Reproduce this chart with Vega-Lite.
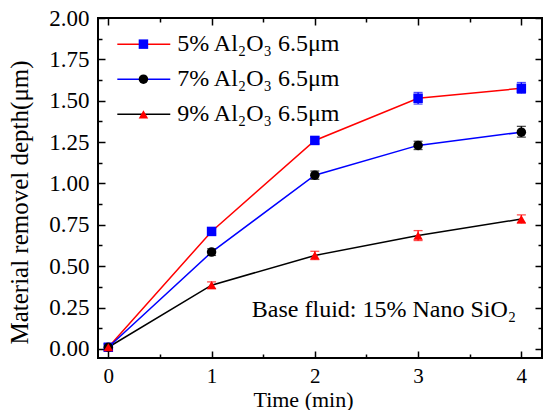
{
  "$schema": "https://vega.github.io/schema/vega-lite/v6.json",
  "width": 444,
  "height": 340,
  "autosize": "none",
  "padding": {"left": 98, "top": 18, "right": 2, "bottom": 52},
  "background": "white",
  "config": {
    "view": {"stroke": "black", "strokeWidth": 2},
    "font": "Liberation Serif",
    "axis": {"domain": false, "grid": false, "tickColor": "black", "tickWidth": 1.5, "labelColor": "black", "titleColor": "black", "labelFont": "Liberation Serif", "titleFont": "Liberation Serif", "labelFontSize": 23, "titleFontSize": 24, "titleFontWeight": "normal"}
  },
  "datasets": {
    "main": [
      {"series": "5%", "t": 0, "d": 0.01, "lo": -0.01, "hi": 0.03},
      {"series": "5%", "t": 1, "d": 0.71, "lo": 0.695, "hi": 0.725},
      {"series": "5%", "t": 2, "d": 1.26, "lo": 1.24, "hi": 1.28},
      {"series": "5%", "t": 3, "d": 1.515, "lo": 1.48, "hi": 1.55},
      {"series": "5%", "t": 4, "d": 1.575, "lo": 1.545, "hi": 1.61},
      {"series": "7%", "t": 0, "d": 0.01, "lo": -0.01, "hi": 0.03},
      {"series": "7%", "t": 1, "d": 0.585, "lo": 0.565, "hi": 0.605},
      {"series": "7%", "t": 2, "d": 1.05, "lo": 1.025, "hi": 1.075},
      {"series": "7%", "t": 3, "d": 1.23, "lo": 1.205, "hi": 1.255},
      {"series": "7%", "t": 4, "d": 1.31, "lo": 1.28, "hi": 1.345},
      {"series": "9%", "t": 0, "d": 0.01, "lo": -0.01, "hi": 0.03},
      {"series": "9%", "t": 1, "d": 0.385, "lo": 0.365, "hi": 0.405},
      {"series": "9%", "t": 2, "d": 0.565, "lo": 0.54, "hi": 0.59},
      {"series": "9%", "t": 3, "d": 0.685, "lo": 0.655, "hi": 0.715},
      {"series": "9%", "t": 4, "d": 0.785, "lo": 0.76, "hi": 0.81}
    ],
    "legend": [
      {"series": "5%", "x0": 0.087, "x1": 0.6, "xm": 0.34, "xt": 0.667, "y": 1.842, "label": "5% Al₂O₃ 6.5μm"},
      {"series": "7%", "x0": 0.087, "x1": 0.6, "xm": 0.34, "xt": 0.667, "y": 1.63, "label": "7% Al₂O₃ 6.5μm"},
      {"series": "9%", "x0": 0.087, "x1": 0.6, "xm": 0.34, "xt": 0.667, "y": 1.418, "label": "9% Al₂O₃ 6.5μm"}
    ],
    "note": [{"x": 3.95, "y": 0.236, "label": "Base fluid: 15% Nano SiO₂"}]
  },
  "resolve": {"axis": {"x": "independent", "y": "independent"}},
  "layer": [
    {
      "data": {"name": "main"},
      "mark": {"type": "line", "strokeWidth": 1.5},
      "encoding": {
        "x": {"field": "t", "type": "quantitative", "scale": {"domain": [-0.1, 4.2], "nice": false, "zero": false},
          "axis": {"orient": "bottom", "title": "Time (min)", "titleX": 205, "titleY": 41, "titleBaseline": "middle", "titleFontSize": 22, "labelFontSize": 21, "values": [0, 0.5, 1, 1.5, 2, 2.5, 3, 3.5, 4], "labelExpr": "datum.value % 1 === 0 ? format(datum.value, 'd') : ''", "tickSize": {"condition": {"test": "datum.value % 1 === 0", "value": -7}, "value": -4}, "labelPadding": 14}},
        "y": {"field": "d", "type": "quantitative", "scale": {"domain": [-0.055, 2.0], "nice": false, "zero": false},
          "axis": {"orient": "left", "title": "Material removel depth(μm)", "titleFontSize": 25, "titleY": 184, "values": [0, 0.125, 0.25, 0.375, 0.5, 0.625, 0.75, 0.875, 1, 1.125, 1.25, 1.375, 1.5, 1.625, 1.75, 1.875, 2], "labelExpr": "(datum.value * 4) % 1 === 0 ? format(datum.value, '.2f') : ''", "tickSize": {"condition": {"test": "(datum.value * 4) % 1 === 0", "value": -7}, "value": -4}, "labelPadding": 16, "titlePadding": 16}},
        "stroke": {"field": "series", "type": "nominal", "scale": {"domain": ["5%", "7%", "9%"], "range": ["#ff0000", "#0000ff", "#000000"]}, "legend": null}
      }
    },
    {
      "data": {"name": "main"},
      "mark": {"type": "errorbar", "ticks": {"size": 9}, "thickness": 1.3},
      "encoding": {
        "x": {"field": "t", "type": "quantitative", "axis": null},
        "y": {"field": "lo", "type": "quantitative", "axis": null},
        "y2": {"field": "hi"},
        "color": {"field": "series", "type": "nominal", "scale": {"domain": ["5%", "7%", "9%"], "range": ["#0000ff", "#000000", "#ff0000"]}, "legend": null}
      }
    },
    {
      "data": {"name": "main"},
      "mark": {"type": "point", "filled": true, "opacity": 1, "size": 90},
      "encoding": {
        "x": {"field": "t", "type": "quantitative",
          "axis": {"orient": "top", "title": null, "labels": false, "values": [0, 0.5, 1, 1.5, 2, 2.5, 3, 3.5, 4], "tickSize": {"condition": {"test": "datum.value % 1 === 0", "value": -7}, "value": -4}}},
        "y": {"field": "d", "type": "quantitative",
          "axis": {"orient": "right", "title": null, "labels": false, "values": [0, 0.125, 0.25, 0.375, 0.5, 0.625, 0.75, 0.875, 1, 1.125, 1.25, 1.375, 1.5, 1.625, 1.75, 1.875, 2], "tickSize": {"condition": {"test": "(datum.value * 4) % 1 === 0", "value": -7}, "value": -4}}},
        "color": {"field": "series", "type": "nominal", "legend": null},
        "shape": {"field": "series", "type": "nominal", "scale": {"domain": ["5%", "7%", "9%"], "range": ["square", "circle", "triangle-up"]}, "legend": null}
      }
    },
    {
      "data": {"name": "legend"},
      "mark": {"type": "rule", "strokeWidth": 1.5},
      "encoding": {
        "x": {"field": "x0", "type": "quantitative", "axis": null},
        "x2": {"field": "x1"},
        "y": {"field": "y", "type": "quantitative", "axis": null},
        "stroke": {"field": "series", "type": "nominal", "legend": null}
      }
    },
    {
      "data": {"name": "legend"},
      "mark": {"type": "point", "filled": true, "opacity": 1, "size": 90},
      "encoding": {
        "x": {"field": "xm", "type": "quantitative", "axis": null},
        "y": {"field": "y", "type": "quantitative", "axis": null},
        "color": {"field": "series", "type": "nominal", "legend": null},
        "shape": {"field": "series", "type": "nominal", "legend": null}
      }
    },
    {
      "data": {"name": "legend"},
      "mark": {"type": "text", "align": "left", "baseline": "middle", "fontSize": 24, "font": "Liberation Serif", "color": "black"},
      "encoding": {
        "x": {"field": "xt", "type": "quantitative", "axis": null},
        "y": {"field": "y", "type": "quantitative", "axis": null},
        "text": {"field": "label"}
      }
    },
    {
      "data": {"name": "note"},
      "mark": {"type": "text", "align": "right", "baseline": "middle", "fontSize": 24, "font": "Liberation Serif", "color": "black"},
      "encoding": {
        "x": {"field": "x", "type": "quantitative", "axis": null},
        "y": {"field": "y", "type": "quantitative", "axis": null},
        "text": {"field": "label"}
      }
    }
  ]
}
